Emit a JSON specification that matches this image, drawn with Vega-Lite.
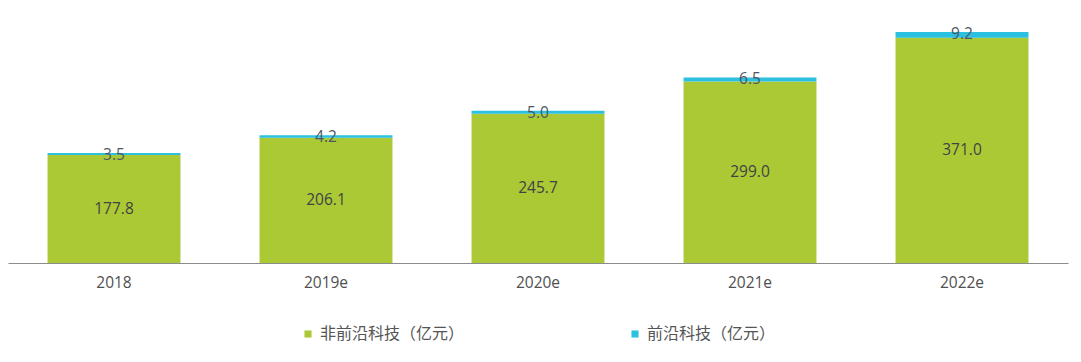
{
  "$schema": "https://vega.github.io/schema/vega-lite/v6.json",
  "width": 1060,
  "height": 263,
  "autosize": {"type": "none"},
  "padding": {"left": 8, "top": 0, "right": 13, "bottom": 99},
  "background": "white",
  "config": {
    "view": {"stroke": null},
    "font": "Open Sans",
    "text": {"font": "Open Sans"}
  },
  "data": {
    "values": [
      {"year": "2018", "type": "非前沿科技（亿元）", "order": 1, "value": 177.8},
      {"year": "2018", "type": "前沿科技（亿元）", "order": 2, "value": 3.5},
      {"year": "2019e", "type": "非前沿科技（亿元）", "order": 1, "value": 206.1},
      {"year": "2019e", "type": "前沿科技（亿元）", "order": 2, "value": 4.2},
      {"year": "2020e", "type": "非前沿科技（亿元）", "order": 1, "value": 245.7},
      {"year": "2020e", "type": "前沿科技（亿元）", "order": 2, "value": 5.0},
      {"year": "2021e", "type": "非前沿科技（亿元）", "order": 1, "value": 299.0},
      {"year": "2021e", "type": "前沿科技（亿元）", "order": 2, "value": 6.5},
      {"year": "2022e", "type": "非前沿科技（亿元）", "order": 1, "value": 371.0},
      {"year": "2022e", "type": "前沿科技（亿元）", "order": 2, "value": 9.2}
    ]
  },
  "encoding": {
    "x": {
      "field": "year",
      "type": "nominal",
      "sort": null,
      "scale": {"paddingInner": 0.373, "paddingOuter": 0.1865},
      "axis": {
        "title": null,
        "labelAngle": 0,
        "labelFont": "Open Sans",
        "labelFontSize": 15.5,
        "labelColor": "#505050",
        "labelPadding": 12,
        "ticks": false,
        "domainColor": "#8c8c8c",
        "domainWidth": 1.2,
        "grid": false
      }
    }
  },
  "layer": [
    {
      "mark": {"type": "bar"},
      "encoding": {
        "y": {
          "field": "value",
          "type": "quantitative",
          "stack": "zero",
          "scale": {"domain": [0, 433]},
          "axis": null
        },
        "color": {
          "field": "type",
          "type": "nominal",
          "sort": ["非前沿科技（亿元）", "前沿科技（亿元）"],
          "scale": {
            "domain": ["非前沿科技（亿元）", "前沿科技（亿元）"],
            "range": ["#abc934", "#2bbfe0"]
          },
          "legend": {
            "title": null,
            "orient": "none",
            "legendX": 292,
            "legendY": 326,
            "direction": "horizontal",
            "columns": 2,
            "symbolType": "square",
            "symbolSize": 50,
            "symbolStrokeWidth": 0,
            "labelFont": "Noto Sans CJK SC",
            "labelFontSize": 16,
            "labelColor": "#555555",
            "labelLimit": 400,
            "labelOffset": 4,
            "columnPadding": 162
          }
        },
        "order": {"field": "order", "type": "quantitative"}
      }
    },
    {
      "transform": [
        {"stack": "value", "groupby": ["year"], "sort": [{"field": "order"}], "as": ["v0", "v1"]},
        {"filter": "datum.order == 2"}
      ],
      "mark": {"type": "text", "fontSize": 15.5, "color": "#4d5660", "baseline": "middle", "dy": 2},
      "encoding": {
        "y": {"field": "v1", "type": "quantitative", "scale": {"domain": [0, 433]}, "axis": null},
        "text": {"field": "value", "type": "quantitative", "format": ".1f"}
      }
    },
    {
      "transform": [{"filter": "datum.order == 1"}],
      "mark": {"type": "text", "fontSize": 15.5, "color": "#404346", "baseline": "middle"},
      "encoding": {
        "y": {"field": "value", "type": "quantitative", "scale": {"domain": [0, 866]}, "axis": null},
        "text": {"field": "value", "type": "quantitative", "format": ".1f"}
      }
    }
  ],
  "resolve": {"scale": {"y": "independent"}}
}
